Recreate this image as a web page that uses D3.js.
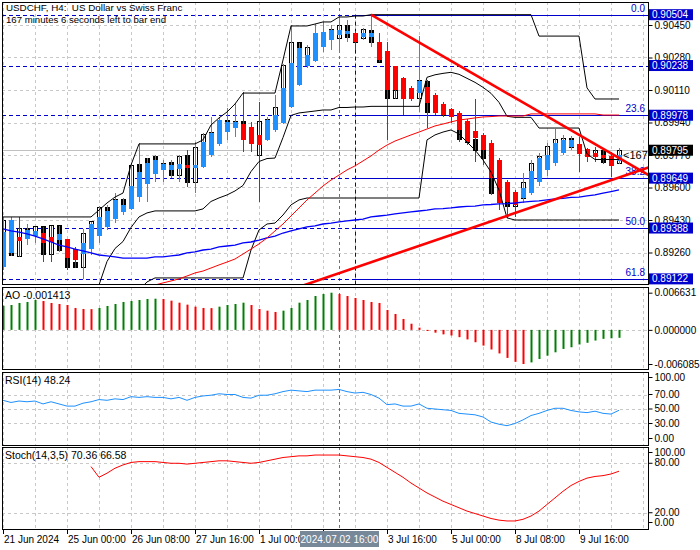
<!DOCTYPE html>
<html><head><meta charset="utf-8">
<script src="https://cdn.jsdelivr.net/npm/d3@7"></script>
<style>body{margin:0;background:#fff}svg{display:block}</style>
</head><body>
<script>
// ---------------- DATA ----------------
const timeLabelBars = [0,8,16,24,32,40,48,56,64,72];
const timeLabels = ["21 Jun 2024","25 Jun 00:00","26 Jun 08:00","27 Jun 16:00","1 Jul 00:00","2 Jul 08:00","3 Jul 16:00","5 Jul 00:00","8 Jul 08:00","9 Jul 16:00"];
const crossBar = 42, crossLabel = "2024.07.02 16:00";

const haOpen = [0.89184,0.89258,0.89341,0.89331,0.89346,0.89362,0.89341,0.89325,0.89331,0.89278,
0.89252,0.89278,0.89346,0.89394,0.89435,0.89472,0.89488,0.89550,0.89618,0.89671,
0.89692,0.89692,0.89697,0.89718,0.89702,0.89707,0.89770,0.89828,0.89890,0.89911,
0.89932,0.89917,0.89875,0.89849,0.89901,0.89937,0.90021,0.90136,0.90236,0.90262,
0.90335,0.90372,0.90398,0.90403,0.90408,0.90387,0.90387,0.90361,0.90314,0.90236,
0.90173,0.90121,0.90094,0.90126,0.90084,0.90037,0.90011,0.89990,0.89948,0.89896,
0.89875,0.89833,0.89744,0.89629,0.89577,0.89545,0.89571,0.89629,0.89692,0.89728,
0.89781,0.89812,0.89828,0.89801,0.89781,0.89770,0.89765,0.89739];
const haClose = [0.89367,0.89430,0.89320,0.89378,0.89373,0.89310,0.89315,0.89357,0.89231,0.89221,
0.89310,0.89409,0.89446,0.89477,0.89535,0.89509,0.89608,0.89681,0.89728,0.89744,
0.89723,0.89718,0.89723,0.89702,0.89718,0.89838,0.89885,0.89953,0.89943,0.89943,
0.89849,0.89828,0.89822,0.89953,0.89979,0.90121,0.90251,0.90330,0.90293,0.90408,
0.90413,0.90424,0.90424,0.90419,0.90361,0.90408,0.90408,0.90267,0.90110,0.90110,
0.90063,0.90063,0.90157,0.90042,0.89990,0.89979,0.89969,0.89901,0.89838,0.89859,
0.89796,0.89650,0.89519,0.89524,0.89509,0.89598,0.89686,0.89754,0.89770,0.89833,
0.89849,0.89849,0.89775,0.89760,0.89760,0.89754,0.89713,0.89770];
const high = [0.89446,0.89446,0.89446,0.89409,0.89394,0.89394,0.89399,0.89399,0.89331,0.89289,
0.89383,0.89420,0.89503,0.89509,0.89571,0.89545,0.89728,0.89833,0.89754,0.89770,
0.89744,0.89744,0.89770,0.89796,0.89838,0.89885,0.89969,0.89969,0.90016,0.90042,
0.90100,0.89943,0.90047,0.89969,0.90084,0.90246,0.90450,0.90356,0.90345,0.90455,
0.90466,0.90450,0.90492,0.90476,0.90419,0.90434,0.90504,0.90408,0.90361,0.90236,
0.90178,0.90131,0.90392,0.90162,0.90094,0.90047,0.90016,0.90000,0.89958,0.90063,
0.89885,0.89849,0.89754,0.89639,0.89587,0.89676,0.89744,0.89781,0.89833,0.89906,
0.89875,0.89869,0.89864,0.89807,0.89812,0.89807,0.89786,0.89807];
const low = [0.89169,0.89242,0.89237,0.89299,0.89310,0.89210,0.89210,0.89263,0.89169,0.89179,
0.89122,0.89247,0.89310,0.89378,0.89414,0.89456,0.89482,0.89524,0.89524,0.89629,
0.89629,0.89650,0.89629,0.89603,0.89571,0.89702,0.89760,0.89817,0.89849,0.89864,
0.89786,0.89786,0.89524,0.89843,0.89890,0.89932,0.90016,0.90131,0.90225,0.90256,
0.90309,0.90319,0.90304,0.90361,0.90319,0.90372,0.90335,0.90256,0.89849,0.90063,
0.89979,0.90053,0.89995,0.89911,0.89979,0.89969,0.89937,0.89838,0.89822,0.89733,
0.89718,0.89561,0.89482,0.89441,0.89446,0.89519,0.89561,0.89608,0.89660,0.89713,
0.89770,0.89796,0.89681,0.89733,0.89733,0.89723,0.89655,0.89723];
const open = [0.89336,0.89430,0.89237,0.89383,0.89357,0.89394,0.89247,0.89399,0.89268,0.89210,
0.89184,0.89325,0.89378,0.89493,0.89472,0.89535,0.89509,0.89718,0.89754,0.89760,
0.89728,0.89733,0.89665,0.89765,0.89624,0.89807,0.89833,0.89890,0.89948,0.89927,
0.89943,0.89849,0.89765,0.89958,0.89932,0.90021,0.90236,0.90356,0.90236,0.90330,
0.90398,0.90408,0.90382,0.90450,0.90387,0.90382,0.90419,0.90356,0.90256,0.90063,
0.90110,0.90084,0.90063,0.90157,0.90005,0.89990,0.89990,0.89969,0.89849,0.89849,
0.89796,0.89754,0.89650,0.89524,0.89503,0.89545,0.89624,0.89728,0.89760,0.89817,
0.89833,0.89854,0.89807,0.89781,0.89760,0.89796,0.89733,0.89728];
const close = [0.89430,0.89242,0.89383,0.89357,0.89394,0.89247,0.89399,0.89268,0.89184,0.89184,
0.89362,0.89420,0.89493,0.89472,0.89535,0.89509,0.89713,0.89681,0.89713,0.89733,
0.89713,0.89665,0.89760,0.89624,0.89807,0.89875,0.89890,0.89948,0.89927,0.89943,
0.89849,0.89828,0.89943,0.89937,0.90021,0.90236,0.90356,0.90330,0.90330,0.90408,
0.90413,0.90424,0.90450,0.90387,0.90361,0.90424,0.90356,0.90256,0.90063,0.90110,
0.90063,0.90063,0.90162,0.89990,0.89990,0.89979,0.89969,0.89849,0.89838,0.89796,
0.89754,0.89571,0.89519,0.89503,0.89545,0.89624,0.89728,0.89760,0.89817,0.89849,
0.89854,0.89807,0.89781,0.89760,0.89796,0.89733,0.89728,0.89795];

const dcUpper = [0.89446,0.89446,0.89446,0.89446,0.89446,0.89446,0.89446,0.89446,0.89446,0.89446,
0.89446,0.89446,0.89482,0.89519,0.89550,0.89571,0.89718,0.89828,0.89828,0.89828,
0.89828,0.89828,0.89828,0.89828,0.89828,0.89849,0.89927,0.89964,0.89995,0.90037,
0.90094,0.90094,0.90094,0.90094,0.90094,0.90267,0.90445,0.90445,0.90445,0.90455,
0.90466,0.90466,0.90492,0.90492,0.90497,0.90497,0.90504,0.90504,0.90504,0.90504,
0.90504,0.90504,0.90504,0.90504,0.90504,0.90504,0.90504,0.90504,0.90504,0.90504,
0.90504,0.90504,0.90504,0.90504,0.90504,0.90504,0.90504,0.90392,0.90392,0.90392,
0.90392,0.90392,0.90392,0.90121,0.90063,0.90063,0.90063,0.90063];
const dcLower = [0.88698,0.88698,0.88698,0.88698,0.88698,0.88698,0.88698,0.88698,0.88698,0.88698,
0.88698,0.88698,0.88698,0.88907,0.89012,0.89064,0.89064,0.89064,0.89106,0.89127,
0.89127,0.89127,0.89127,0.89127,0.89127,0.89127,0.89127,0.89127,0.89127,0.89127,
0.89127,0.89273,0.89378,0.89409,0.89414,0.89456,0.89509,0.89535,0.89545,0.89545,
0.89545,0.89545,0.89545,0.89545,0.89545,0.89545,0.89545,0.89545,0.89545,0.89545,
0.89545,0.89545,0.89545,0.89849,0.89875,0.89890,0.89901,0.89880,0.89838,0.89796,
0.89744,0.89681,0.89587,0.89441,0.89430,0.89430,0.89430,0.89430,0.89430,0.89430,
0.89430,0.89430,0.89430,0.89430,0.89430,0.89430,0.89430,0.89430];

const maFast = [null,null,null,null,null,null,null,null,null,null,
null,null,null,null,null,null,null,0.89058,0.89074,0.89090,
0.89101,0.89111,0.89122,0.89137,0.89153,0.89163,0.89179,0.89195,0.89210,0.89226,
0.89252,0.89278,0.89305,0.89336,0.89373,0.89409,0.89451,0.89493,0.89535,0.89571,
0.89608,0.89639,0.89665,0.89692,0.89713,0.89739,0.89765,0.89796,0.89822,0.89843,
0.89859,0.89875,0.89890,0.89906,0.89922,0.89932,0.89943,0.89953,0.89958,0.89964,
0.89969,0.89971,0.89974,0.89974,0.89974,0.89974,0.89985,0.89985,0.89985,0.89985,
0.89985,0.89985,0.89985,0.89985,0.89985,0.89979,0.89979,0.89979];
const maSlow = [0.89383,0.89373,0.89367,0.89357,0.89346,0.89331,0.89315,0.89299,0.89289,0.89278,
0.89268,0.89258,0.89247,0.89242,0.89237,0.89231,0.89231,0.89231,0.89231,0.89237,
0.89237,0.89242,0.89247,0.89258,0.89263,0.89273,0.89278,0.89289,0.89294,0.89299,
0.89310,0.89315,0.89325,0.89336,0.89346,0.89362,0.89373,0.89383,0.89394,0.89399,
0.89409,0.89414,0.89420,0.89425,0.89430,0.89435,0.89446,0.89451,0.89456,0.89462,
0.89467,0.89472,0.89477,0.89482,0.89488,0.89490,0.89493,0.89498,0.89501,0.89503,
0.89509,0.89511,0.89514,0.89516,0.89519,0.89524,0.89527,0.89530,0.89535,0.89540,
0.89543,0.89548,0.89550,0.89556,0.89561,0.89571,0.89579,0.89587];

const ao = [0.00430,0.00444,0.00480,0.00498,0.00533,0.00515,0.00480,0.00462,0.00444,0.00391,
0.00373,0.00370,0.00391,0.00427,0.00462,0.00498,0.00515,0.00533,0.00551,0.00556,
0.00551,0.00521,0.00485,0.00450,0.00414,0.00391,0.00388,0.00414,0.00444,0.00462,
0.00485,0.00444,0.00373,0.00343,0.00320,0.00343,0.00391,0.00485,0.00533,0.00604,
0.00640,0.006631,0.00640,0.00604,0.00569,0.00533,0.00498,0.00480,0.00355,0.00284,
0.00195,0.00110,0.00040,-0.00020,-0.00050,-0.00080,-0.00100,-0.00130,-0.00170,-0.00220,
-0.00280,-0.00350,-0.00420,-0.00500,-0.00570,-0.006085,-0.00580,-0.00520,-0.00460,-0.00400,
-0.00340,-0.00310,-0.00260,-0.00230,-0.00190,-0.00160,-0.00150,-0.001413];
const rsi = [62,59,61,60,61,57,60,57,54,54,
58,60,63,62,64,63,67,66,67,66,
66,64,66,62,66,68,69,71,70,70,
66,65,69,69,71,74,76,75,74,76,
76,76,77,74,72,73,70,65,56,57,
54,54,57,51,50,49,48,44,43,42,
39,32,29,27,30,35,41,44,48,51,
51,48,46,45,47,44,43,48.24];
const stoch = [null,null,null,null,null,null,null,null,null,null,
null,76,63,68,74,78,81,82,82,82,
81,80,80,79,80,81,82,83,83,82,
81,80,81,83,85,87,88,89,89,90,
90,90,90,89,88,87,85,81,75,69,
63,56,50,44,39,34,30,26,22,19,
16,13,11,10,10,12,16,22,30,38,
46,53,58,62,64,65,67,70.36];

const priceTicks = [0.90450,0.90280,0.90110,0.89940,0.89770,0.89600,0.89430,0.89260];
const hLevels = [0.90504,0.90238,0.89978,0.89649,0.89388,0.89122];
const fibNames = ["0.0","23.6","38.2","50.0","61.8"];
const fibPrices = [0.90504,0.89978,0.89649,0.89388,0.89122];
const fibStartBar = 44;
const bidPrice = 0.89795;
const downTrend = [[46,0.90504],[76,0.89779]];
const upTrend = [[40,0.89123],[76,0.89638]];
const aoTicks = [0.006631,0,-0.006085];
const rsiTicks = [100,70,50,30,0];
const rsiGrid = [70,50,30];
const stTicks = [100,80,20,0];
const stGrid = [80,20];

// ---------------- DRAW ----------------
const FONT = "'Liberation Sans', Arial, sans-serif";
const W = 700, H = 550, XL = 2, XR = 648;
const P = {main:{t:2,b:284}, ao:{t:287,b:369}, rsi:{t:372,b:445}, st:{t:447,b:529}};
const BLUE = "#0000cd", HAUP = "#1e90ff", HADN = "#ff0000";

const svg = d3.select("body").append("svg").attr("width",W).attr("height",H)
  .style("font-family",FONT).style("background","#fff");
const defs = svg.append("defs");
Object.entries(P).forEach(([k,p])=>{
  defs.append("clipPath").attr("id","c-"+k).append("rect")
    .attr("x",XL).attr("y",p.t).attr("width",XR-XL).attr("height",p.b-p.t);
});

const x = d3.scaleLinear().domain([0,77]).range([3,619]);
const y = d3.scaleLinear().domain([0.89090,0.90450]).range([285,25]);
const yAO = d3.scaleLinear().domain([-0.006085,0.006631]).range([364,292.7]);
const yRSI = d3.scaleLinear().domain([0,100]).range([445.25,372.75]);
const ySt = d3.scaleLinear().domain([0,100]).range([529.2,446.8]);

const gridBars = d3.range(0,81,4);

function paneBase(key, hGrid, ys){
  const p = P[key];
  const g = svg.append("g").attr("clip-path",`url(#c-${key})`);
  g.selectAll(".vg").data(gridBars).join("line")
    .attr("x1",d=>Math.round(x(d))+0.5).attr("x2",d=>Math.round(x(d))+0.5)
    .attr("y1",p.t).attr("y2",p.b).attr("stroke","#c8c8c8").attr("stroke-dasharray","3,3");
  g.selectAll(".hg").data(hGrid).join("line")
    .attr("x1",XL).attr("x2",XR).attr("y1",d=>Math.round(ys(d))+0.5).attr("y2",d=>Math.round(ys(d))+0.5)
    .attr("stroke","#c8c8c8").attr("stroke-dasharray","3,3");
  g.append("line").attr("x1",x(crossBar)+0.5).attr("x2",x(crossBar)+0.5).attr("y1",p.t).attr("y2",p.b)
    .attr("stroke","#707070").attr("stroke-dasharray","3,3");
  return g;
}

// ===== MAIN PANE =====
const gm = paneBase("main", priceTicks, y);
gm.append("line").attr("x1",XL).attr("x2",XR).attr("y1",Math.round(y(bidPrice))+0.5).attr("y2",Math.round(y(bidPrice))+0.5)
  .attr("stroke","#c0c0c0");
gm.selectAll(".hl").data(hLevels).join("line")
  .attr("x1",XL).attr("x2",XR).attr("y1",d=>Math.round(y(d))+0.5).attr("y2",d=>Math.round(y(d))+0.5)
  .attr("stroke",BLUE).attr("stroke-dasharray","4,3");
gm.selectAll(".fib").data(fibPrices).join("line")
  .attr("x1",x(fibStartBar)).attr("x2",XR).attr("y1",d=>Math.round(y(d))+0.5).attr("y2",d=>Math.round(y(d))+0.5)
  .attr("stroke",BLUE);
gm.append("line").attr("x1",x(fibStartBar)+0.5).attr("x2",x(fibStartBar)+0.5)
  .attr("y1",y(fibPrices[0])).attr("y2",P.main.b).attr("stroke",BLUE).attr("stroke-dasharray","4,3");

// candles
const idx = d3.range(open.length);
const gc = gm.append("g").attr("shape-rendering","crispEdges");
gc.selectAll(".rb").data(idx).join("rect")
  .attr("x",i=>x(i)-2).attr("width",4)
  .attr("y",i=>y(Math.max(open[i],close[i]))).attr("height",i=>Math.max(1,y(Math.min(open[i],close[i]))-y(Math.max(open[i],close[i]))))
  .attr("fill",i=>close[i]>=open[i]?"#fff":"#000").attr("stroke","#000");
gc.selectAll(".hw").data(idx).join("line")
  .attr("x1",i=>x(i)+0.5).attr("x2",i=>x(i)+0.5).attr("y1",i=>y(high[i])).attr("y2",i=>y(low[i]))
  .attr("stroke",i=>haClose[i]>=haOpen[i]?HAUP:HADN);
gc.selectAll(".hb").data(idx).join("rect")
  .attr("x",i=>x(i)-2).attr("width",5)
  .attr("y",i=>y(Math.max(haOpen[i],haClose[i]))).attr("height",i=>Math.max(1,y(Math.min(haOpen[i],haClose[i]))-y(Math.max(haOpen[i],haClose[i]))))
  .attr("fill",i=>haClose[i]>=haOpen[i]?HAUP:HADN);

const line = (ys)=>d3.line().defined(d=>d!=null).x((d,i)=>x(i)).y(d=>ys(d));
const dcMid = dcUpper.map((u,i)=>(u+dcLower[i])/2);
[dcUpper,dcMid,dcLower].forEach(s=>gm.append("path").attr("d",line(y)(s)).attr("fill","none").attr("stroke","#000").attr("stroke-width",1));
gm.append("path").attr("d",line(y)(maSlow)).attr("fill","none").attr("stroke","#0000ff").attr("stroke-width",1.3);
gm.append("path").attr("d",line(y)(maFast)).attr("fill","none").attr("stroke","#ff0000").attr("stroke-width",1);

gm.selectAll(".fl").data(fibPrices).join("text")
  .attr("x",645).attr("y",d=>y(d)-3).attr("text-anchor","end").attr("font-size",10)
  .attr("fill",BLUE).text((d,i)=>fibNames[i]);

function trend(pts, b0, b1){
  const [[ba,pa],[bb,pb]] = pts;
  const f = b=>pa+(pb-pa)*(b-ba)/(bb-ba);
  return [[x(b0),y(f(b0))],[x(b1),y(f(b1))]];
}
[trend(downTrend,46,82), trend(upTrend,30,82)].forEach(seg=>{
  gm.append("line").attr("x1",seg[0][0]).attr("y1",seg[0][1]).attr("x2",seg[1][0]).attr("y2",seg[1][1])
    .attr("stroke","#ff0000").attr("stroke-width",2.6);
});
gm.append("text").attr("x",623).attr("y",y(bidPrice)+9).attr("font-size",11).attr("fill","#000").text("<167");

svg.append("text").attr("x",6).attr("y",11).attr("font-size",9.8).style("white-space","pre").text("USDCHF, H4:  US Dollar vs Swiss Franc");
svg.append("text").attr("x",6).attr("y",23).attr("font-size",9.6).text("167 minutes 6 seconds left to bar end");

// ===== AO =====
const ga = paneBase("ao", [0], yAO);
ga.selectAll(".ao").data(idx).join("line")
  .attr("x1",i=>x(i)+0.5).attr("x2",i=>x(i)+0.5).attr("y1",yAO(0)).attr("y2",i=>yAO(ao[i]))
  .attr("stroke",i=>(i===0||ao[i]>=ao[i-1])?"#008000":"#ff0000").attr("stroke-width",2);
svg.append("text").attr("x",5).attr("y",P.ao.t+12).attr("font-size",10.5).text("AO -0.001413");

// ===== RSI =====
const gr = paneBase("rsi", rsiGrid, yRSI);
gr.append("path").attr("d",line(yRSI)(rsi)).attr("fill","none").attr("stroke","#1e90ff");
svg.append("text").attr("x",5).attr("y",P.rsi.t+12).attr("font-size",10.5).text("RSI(14) 48.24");

// ===== STOCH =====
const gs = paneBase("st", stGrid, ySt);
gs.append("path").attr("d",line(ySt)(stoch)).attr("fill","none").attr("stroke","#ff0000");
svg.append("text").attr("x",5).attr("y",P.st.t+12).attr("font-size",10.5).text("Stoch(14,3,5) 70.36 66.58");

Object.values(P).forEach(p=>{
  svg.append("rect").attr("x",XL+0.5).attr("y",p.t+0.5).attr("width",XR-XL).attr("height",p.b-p.t)
    .attr("fill","none").attr("stroke","#000").attr("shape-rendering","crispEdges");
});

// ===== AXES =====
function rightAxis(scale, ticks, fmt, p, clampIt){
  const g = svg.append("g").attr("transform",`translate(${XR+0.5},0)`)
    .call(d3.axisRight(scale).tickValues(ticks).tickSize(4).tickPadding(2).tickFormat(fmt));
  g.select(".domain").remove();
  g.selectAll("text").attr("font-size",10).attr("font-family",FONT).attr("fill","#000");
  g.selectAll("line").attr("stroke","#000");
  if(clampIt) g.selectAll(".tick").attr("transform",d=>`translate(0,${Math.max(p.t+5.5,Math.min(p.b-6.5,scale(d)))})`);
  return g;
}
rightAxis(y, priceTicks, d=>d.toFixed(5), P.main, false);
rightAxis(yAO, aoTicks, d=>d.toFixed(6), P.ao, false);
rightAxis(yRSI, rsiTicks, d=>d.toFixed(2), P.rsi, true);
rightAxis(ySt, stTicks, d=>d.toFixed(2), P.st, true);

function box(v, fill){
  const yy = y(v);
  svg.append("rect").attr("x",XR+1).attr("y",yy-5.5).attr("width",44).attr("height",11).attr("fill",fill);
  svg.append("text").attr("x",XR+4).attr("y",yy+3.6).attr("font-size",10).attr("fill","#fff").text(v.toFixed(5));
}
hLevels.forEach(v=>box(v,BLUE));
box(bidPrice,"#000");

// time axis
const cx = x(crossBar);
const hlL = cx-39, hlR = cx+40;
defs.append("clipPath").attr("id","c-time").append("rect").attr("x",0).attr("y",529).attr("width",hlL).attr("height",21);
defs.append("clipPath").attr("id","c-time2").append("rect").attr("x",hlR).attr("y",529).attr("width",W-hlR).attr("height",21);
const gt = svg.append("g");
gt.selectAll("line").data(timeLabelBars).join("line")
  .attr("x1",d=>Math.round(x(d))+0.5).attr("x2",d=>Math.round(x(d))+0.5).attr("y1",P.st.b).attr("y2",P.st.b+5).attr("stroke","#000");
const visT = timeLabelBars.map((b,i)=>({b,t:timeLabels[i]})).filter(d=>x(d.b)<hlL || x(d.b)>hlR);
gt.selectAll("text").data(visT).join("text")
  .attr("clip-path",d=>x(d.b)<hlL?"url(#c-time)":"url(#c-time2)")
  .attr("x",d=>x(d.b)+1).attr("y",543).attr("font-size",10).text(d=>d.t);
svg.append("rect").attr("x",hlL).attr("y",531).attr("width",hlR-hlL).attr("height",16).attr("fill","#778899");
svg.append("text").attr("x",cx+0.5).attr("y",543).attr("text-anchor","middle").attr("font-size",10).attr("fill","#fff").text(crossLabel);
</script>
</body></html>
